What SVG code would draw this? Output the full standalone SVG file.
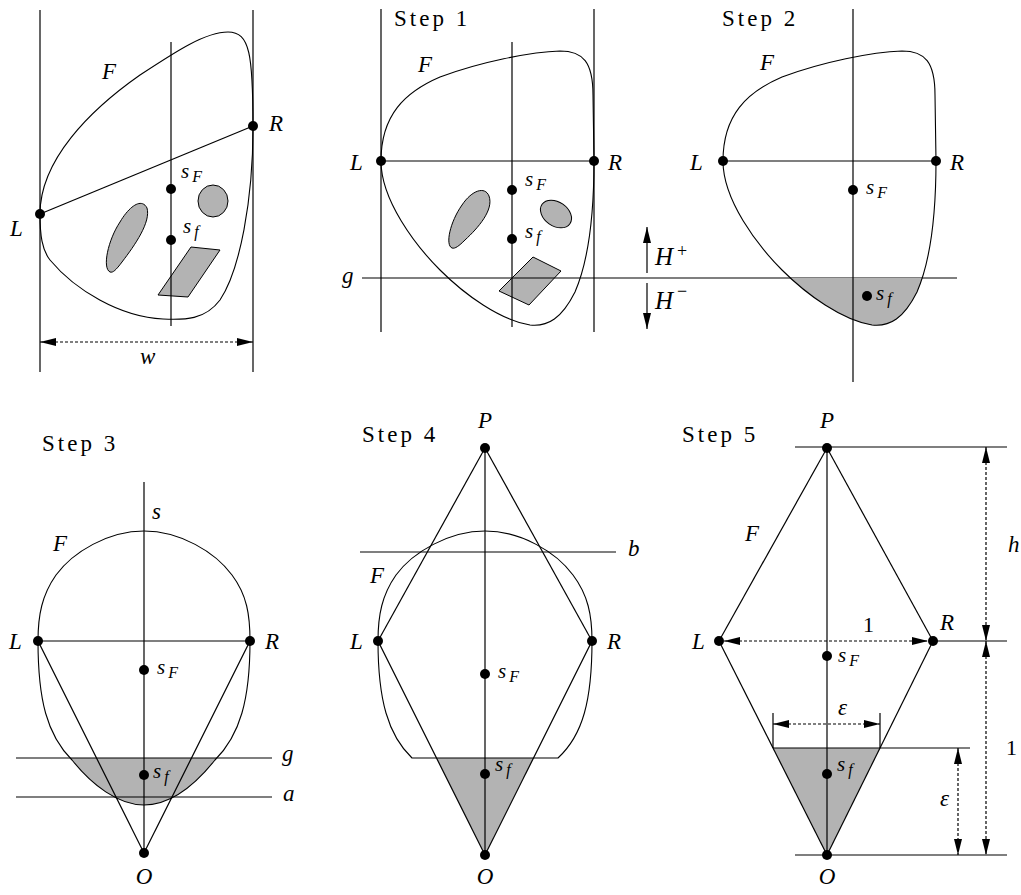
<svg xmlns="http://www.w3.org/2000/svg" width="1021" height="895" viewBox="0 0 1021 895">
<style>
.ln{stroke:#000;stroke-width:1.2;fill:none}
.ol{stroke:#000;stroke-width:1.1;fill:none}
.gray{fill:#b3b3b3}
.gs{fill:#b3b3b3;stroke:#000;stroke-width:1}
.dash{stroke-dasharray:3 2}
text{font-family:'Liberation Serif','DejaVu Serif','Times New Roman',serif}
.lab{font-style:italic;font-size:23px}
.s{font-style:italic;font-size:21px}
.sub{font-size:16px}
.step{font-size:23px;letter-spacing:3px}
.num{font-size:22px}
.big{font-style:italic;font-size:25px}
.sup{font-style:normal;font-size:18px}
</style>
<defs>
<marker id="ah" viewBox="0 0 16 8" markerWidth="16" markerHeight="8" refX="16" refY="4" orient="auto-start-reverse" markerUnits="userSpaceOnUse"><path d="M0,0 L16,4 L0,8 Z" fill="#000"/></marker>
<path id="blobA" d="M381,161 C381,115 405,92 440,77 C480,62 530,52 560,51 C583,51 593,62 593,95 L594,161 C594,220 588,262 575,292 C562,318 548,327 530,325 C500,320 465,295 440,270 C415,245 381,200 381,161 Z"/>
<path id="blobB" d="M144,531 C180,531 215,552 232,575 C247,595 250,615 250,641 C250,700 240,735 215,760 C195,785 170,805 144,805 C118,805 92,785 72,760 C47,735 38,700 38,641 C38,615 42,595 56,575 C73,552 108,531 144,531 Z"/>
<clipPath id="belowG"><rect x="0" y="278" width="1021" height="200"/></clipPath>
<clipPath id="belowG3"><rect x="0" y="758" width="400" height="137"/></clipPath>
</defs>

<!-- Panel 1 -->
<g id="panel0">
  <g id="p0-shapes">
    <path class="ol" d="M40,214 C40,160 90,110 140,75 C175,52 205,32 228,32 C250,32 253,55 253,127 C253,200 240,270 220,300 C205,320 185,320 163,319 C120,317 75,290 50,260 C42,250 40,235 40,214 Z"/>
    <path class="gs" d="M110,272 C102,268 108,240 120,222 C130,205 142,198 147,208 C151,222 135,245 122,262 C116,270 113,273 110,272 Z"/>
    <ellipse class="gs" cx="213" cy="201" rx="15" ry="16"/>
    <polygon class="gs" points="191,247 220,250 188,297 158,295"/>
  </g>
  <g id="p0-connectors">
    <line class="ln" x1="40" y1="10" x2="40" y2="372"/>
    <line class="ln" x1="253" y1="10" x2="253" y2="372"/>
    <line class="ln" x1="171" y1="42" x2="171" y2="326"/>
    <line class="ln" x1="40" y1="214" x2="253" y2="126"/>
    <line class="ln dash" x1="40" y1="342" x2="253" y2="342" marker-start="url(#ah)" marker-end="url(#ah)"/>
  </g>
  <g id="p0-L"><circle cx="40" cy="214" r="5"/><text class="lab" x="10" y="236">L</text></g>
  <g id="p0-R"><circle cx="253" cy="126" r="5"/><text class="lab" x="269" y="131">R</text></g>
  <g id="p0-sF"><circle cx="171" cy="189" r="5"/><text class="s" x="181" y="178">s<tspan class="sub" dx="3" dy="4">F</tspan></text></g>
  <g id="p0-sf"><circle cx="171" cy="240" r="5"/><text class="s" x="183" y="233">s<tspan class="sub" dx="3" dy="4">f</tspan></text></g>
  <text class="lab" x="102" y="79">F</text>
  <text class="lab" x="140" y="364">w</text>
</g>

<!-- Panel 2: Step 1 -->
<g id="panel1">
  <text class="step" x="394" y="26">Step 1</text>
  <g id="p1-shapes">
    <use href="#blobA" class="ol"/>
    <path class="gs" d="M452,248 C445,245 450,222 462,205 C472,190 485,186 489,196 C494,210 478,228 465,240 C459,246 455,249 452,248 Z"/>
    <ellipse class="gs" cx="556" cy="214" rx="17" ry="12" transform="rotate(35 556 214)"/>
    <polygon class="gs" points="533,257 561,271 529,305 499,291"/>
  </g>
  <g id="p1-connectors">
    <line class="ln" x1="381" y1="9" x2="381" y2="332"/>
    <line class="ln" x1="594" y1="9" x2="594" y2="332"/>
    <line class="ln" x1="512" y1="42" x2="512" y2="327"/>
    <line class="ln" x1="381" y1="161" x2="594" y2="161"/>
    <line class="ln" x1="362" y1="278" x2="957" y2="278"/>
    <line class="ln" x1="647" y1="273" x2="647" y2="227" marker-end="url(#ah)"/>
    <line class="ln" x1="647" y1="283" x2="647" y2="329" marker-end="url(#ah)"/>
  </g>
  <g id="p1-L"><circle cx="381" cy="161" r="5"/><text class="lab" x="350" y="170">L</text></g>
  <g id="p1-R"><circle cx="594" cy="161" r="5"/><text class="lab" x="608" y="170">R</text></g>
  <g id="p1-sF"><circle cx="512" cy="190" r="5"/><text class="s" x="525" y="186">s<tspan class="sub" dx="3" dy="4">F</tspan></text></g>
  <g id="p1-sf"><circle cx="512" cy="239" r="5"/><text class="s" x="525" y="238">s<tspan class="sub" dx="3" dy="4">f</tspan></text></g>
  <text class="lab" x="418" y="72">F</text>
  <text class="lab" x="342" y="283">g</text>
  <text class="big" x="655" y="265">H<tspan class="sup" dx="4" dy="-8">+</tspan></text>
  <text class="big" x="655" y="309">H<tspan class="sup" dx="4" dy="-12">−</tspan></text>
</g>

<!-- Panel 3: Step 2 -->
<g id="panel2">
  <text class="step" x="722" y="26">Step 2</text>
  <g id="p2-shapes" transform="translate(342,0)">
    <use href="#blobA" class="gray" clip-path="url(#belowG)"/>
    <use href="#blobA" class="ol"/>
  </g>
  <g id="p2-connectors">
    <line class="ln" x1="853" y1="9" x2="853" y2="382"/>
    <line class="ln" x1="723" y1="161" x2="936" y2="161"/>
  </g>
  <g id="p2-L"><circle cx="723" cy="161" r="5"/><text class="lab" x="690" y="170">L</text></g>
  <g id="p2-R"><circle cx="936" cy="161" r="5"/><text class="lab" x="950" y="170">R</text></g>
  <g id="p2-sF"><circle cx="853" cy="190" r="5"/><text class="s" x="866" y="194">s<tspan class="sub" dx="3" dy="4">F</tspan></text></g>
  <g id="p2-sf"><circle cx="867" cy="296" r="5"/><text class="s" x="876" y="300">s<tspan class="sub" dx="3" dy="4">f</tspan></text></g>
  <text class="lab" x="760" y="70">F</text>
</g>

<!-- Panel 4: Step 3 -->
<g id="panel3">
  <text class="step" x="42" y="451">Step 3</text>
  <g id="p3-shapes">
    <use href="#blobB" class="gray" clip-path="url(#belowG3)"/>
    <use href="#blobB" class="ol"/>
  </g>
  <g id="p3-connectors">
    <line class="ln" x1="144" y1="482" x2="144" y2="853"/>
    <line class="ln" x1="38" y1="641" x2="250" y2="641"/>
    <line class="ln" x1="38" y1="641" x2="144" y2="853"/>
    <line class="ln" x1="250" y1="641" x2="144" y2="853"/>
    <line class="ln" x1="16" y1="758" x2="272" y2="758"/>
    <line class="ln" x1="16" y1="797" x2="272" y2="797"/>
  </g>
  <g id="p3-L"><circle cx="38" cy="641" r="5"/><text class="lab" x="9" y="649">L</text></g>
  <g id="p3-R"><circle cx="250" cy="641" r="5"/><text class="lab" x="265" y="649">R</text></g>
  <g id="p3-sF"><circle cx="144" cy="670" r="5"/><text class="s" x="157" y="674">s<tspan class="sub" dx="3" dy="4">F</tspan></text></g>
  <g id="p3-sf"><circle cx="144" cy="775" r="5"/><text class="s" x="153" y="778">s<tspan class="sub" dx="3" dy="4">f</tspan></text></g>
  <g id="p3-O"><circle cx="144" cy="853" r="5"/><text class="lab" x="144" y="884" text-anchor="middle">O</text></g>
  <text class="lab" x="152" y="519">s</text>
  <text class="lab" x="53" y="551">F</text>
  <text class="lab" x="282" y="761">g</text>
  <text class="lab" x="283" y="801">a</text>
</g>

<!-- Panel 5: Step 4 -->
<g id="panel4">
  <text class="step" x="362" y="442">Step 4</text>
  <g id="p4-shapes">
    <polygon class="gray" points="436.5,758 533.5,758 485,855"/>
    <path class="ol" d="M485,531 C521,531 556,552 573,575 C588,595 592,615 592,641 C592,700 583,735 558,758 L412,758 C388,735 378,700 378,641 C378,615 382,595 396,575 C413,552 449,531 485,531 Z"/>
  </g>
  <g id="p4-connectors">
    <line class="ln" x1="485" y1="448" x2="485" y2="855"/>
    <line class="ln" x1="360" y1="552" x2="616" y2="552"/>
    <line class="ln" x1="485" y1="448" x2="378" y2="641"/>
    <line class="ln" x1="485" y1="448" x2="592" y2="641"/>
    <line class="ln" x1="378" y1="641" x2="485" y2="855"/>
    <line class="ln" x1="592" y1="641" x2="485" y2="855"/>
  </g>
  <g id="p4-P"><circle cx="485" cy="448" r="5"/><text class="lab" x="485" y="428" text-anchor="middle">P</text></g>
  <g id="p4-L"><circle cx="378" cy="641" r="5"/><text class="lab" x="350" y="649">L</text></g>
  <g id="p4-R"><circle cx="592" cy="641" r="5"/><text class="lab" x="607" y="649">R</text></g>
  <g id="p4-sF"><circle cx="485" cy="674" r="5"/><text class="s" x="498" y="678">s<tspan class="sub" dx="3" dy="4">F</tspan></text></g>
  <g id="p4-sf"><circle cx="485" cy="774" r="5"/><text class="s" x="495" y="771">s<tspan class="sub" dx="3" dy="4">f</tspan></text></g>
  <g id="p4-O"><circle cx="485" cy="855" r="5"/><text class="lab" x="485" y="884" text-anchor="middle">O</text></g>
  <text class="lab" x="370" y="583">F</text>
  <text class="lab" x="628" y="556">b</text>
</g>

<!-- Panel 6: Step 5 -->
<g id="panel5">
  <text class="step" x="682" y="442">Step 5</text>
  <g id="p5-shapes">
    <polygon class="gray" points="773,748 880,748 827,855"/>
  </g>
  <g id="p5-connectors">
    <line class="ln" x1="795" y1="447" x2="1007" y2="447"/>
    <line class="ln" x1="933" y1="641" x2="1007" y2="641"/>
    <line class="ln" x1="795" y1="855" x2="1007" y2="855"/>
    <line class="ln" x1="773" y1="748" x2="970" y2="748"/>
    <line class="ln" x1="827" y1="448" x2="827" y2="855"/>
    <line class="ln" x1="827" y1="448" x2="719" y2="641"/>
    <line class="ln" x1="827" y1="448" x2="933" y2="641"/>
    <line class="ln" x1="719" y1="641" x2="827" y2="855"/>
    <line class="ln" x1="933" y1="641" x2="827" y2="855"/>
    <line class="ln" x1="773" y1="713" x2="773" y2="748"/>
    <line class="ln" x1="880" y1="713" x2="880" y2="748"/>
    <line class="ln dash" x1="724" y1="641" x2="928" y2="641" marker-start="url(#ah)" marker-end="url(#ah)"/>
    <line class="ln dash" x1="773" y1="724" x2="880" y2="724" marker-start="url(#ah)" marker-end="url(#ah)"/>
    <line class="ln dash" x1="958" y1="748" x2="958" y2="855" marker-start="url(#ah)" marker-end="url(#ah)"/>
    <line class="ln dash" x1="986" y1="447" x2="986" y2="641" marker-start="url(#ah)" marker-end="url(#ah)"/>
    <line class="ln dash" x1="986" y1="641" x2="986" y2="855" marker-start="url(#ah)" marker-end="url(#ah)"/>
  </g>
  <g id="p5-P"><circle cx="827" cy="448" r="5"/><text class="lab" x="827" y="428" text-anchor="middle">P</text></g>
  <g id="p5-L"><circle cx="719" cy="641" r="5"/><text class="lab" x="692" y="649">L</text></g>
  <g id="p5-R"><circle cx="933" cy="641" r="5"/><text class="lab" x="940" y="630">R</text></g>
  <g id="p5-sF"><circle cx="827" cy="656" r="5"/><text class="s" x="838" y="662">s<tspan class="sub" dx="3" dy="4">F</tspan></text></g>
  <g id="p5-sf"><circle cx="827" cy="774" r="5"/><text class="s" x="837" y="771">s<tspan class="sub" dx="3" dy="4">f</tspan></text></g>
  <g id="p5-O"><circle cx="827" cy="855" r="5"/><text class="lab" x="827" y="884" text-anchor="middle">O</text></g>
  <text class="lab" x="745" y="541">F</text>
  <text class="num" x="863" y="632">1</text>
  <text class="lab" x="838" y="715">ε</text>
  <text class="lab" x="940" y="806">ε</text>
  <text class="lab" x="1008" y="552">h</text>
  <text class="num" x="1006" y="755">1</text>
</g>
</svg>
